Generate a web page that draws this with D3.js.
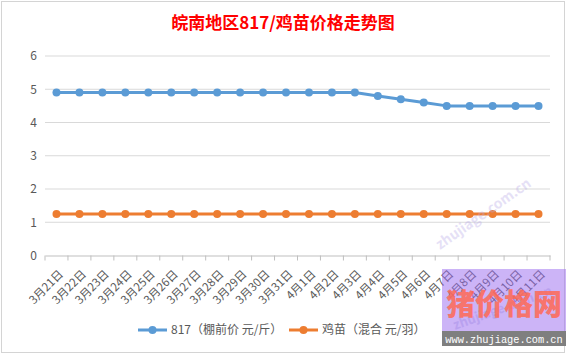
<!DOCTYPE html>
<html>
<head>
<meta charset="utf-8">
<script src="https://cdn.jsdelivr.net/npm/d3@7"></script>
<style>
  html, body { margin: 0; padding: 0; background: #fff; }
  svg { display: block; }
  text { font-family: "Noto Sans CJK SC", "Noto Sans", sans-serif; }
</style>
</head>
<body>
<svg id="chart" width="567" height="355"></svg>
<script>
const title = "皖南地区817/鸡苗价格走势图";
const categories = ["3月21日","3月22日","3月23日","3月24日","3月25日","3月26日","3月27日","3月28日","3月29日","3月30日","3月31日","4月1日","4月2日","4月3日","4月4日","4月5日","4月6日","4月7日","4月8日","4月9日","4月10日","4月11日"];
const price817 = [4.9,4.9,4.9,4.9,4.9,4.9,4.9,4.9,4.9,4.9,4.9,4.9,4.9,4.9,4.8,4.7,4.6,4.5,4.5,4.5,4.5,4.5];
const priceChick = [1.25,1.25,1.25,1.25,1.25,1.25,1.25,1.25,1.25,1.25,1.25,1.25,1.25,1.25,1.25,1.25,1.25,1.25,1.25,1.25,1.25,1.25];
const seriesNames = ["817（棚前价 元/斤）", "鸡苗（混合 元/羽）"];
const yTicks = [0,1,2,3,4,5,6];

const colors = ["#5b9bd5", "#ed7d31"];
const svg = d3.select("#chart");

// frame
svg.append("rect").attr("x",1.5).attr("y",1.5).attr("width",563).attr("height",351)
  .attr("fill","none").attr("stroke","#d4d4d4").attr("stroke-width",1);

const x = d3.scaleBand().domain(categories).range([45, 550]).padding(0);
const y = d3.scaleLinear().domain([0, 6]).range([255.5, 56]);
const cx = d => x(d) + x.bandwidth() / 2;

// title
svg.append("text").attr("x", 283).attr("y", 29).attr("text-anchor","middle")
  .attr("fill","#ff0000").attr("font-size", 17).attr("font-weight","bold").text(title);

// gridlines
svg.append("g").selectAll("line").data(yTicks.filter(t => t > 0)).join("line")
  .attr("x1", 45).attr("x2", 550).attr("y1", d => y(d)).attr("y2", d => y(d))
  .attr("stroke","#d9d9d9").attr("stroke-width",1);

// y axis labels
const yAxis = d3.axisLeft(y).tickValues(yTicks).tickSize(0).tickPadding(8).tickFormat(d3.format("d"));
const gy = svg.append("g").attr("transform","translate(45,0)").call(yAxis);
gy.select(".domain").remove();
gy.selectAll("text").attr("fill","#595959").attr("font-size",12);

// x axis
const gx = svg.append("g").attr("transform", `translate(0,${y(0)})`)
  .call(d3.axisBottom(x).tickSize(0).tickFormat(""));
gx.select(".domain").attr("stroke","#bfbfbf");
gx.selectAll(".tick").remove();
const bounds = categories.map(c => x(c)).concat([x(categories[categories.length-1]) + x.bandwidth()]);
gx.selectAll("line.tk").data(bounds).join("line").attr("class","tk")
  .attr("x1", d => d).attr("x2", d => d).attr("y1", 0).attr("y2", 5)
  .attr("stroke","#bfbfbf");

svg.append("g").selectAll("text").data(categories).join("text")
  .attr("transform", d => `translate(${cx(d) + 4.5},${y(0) + 16.5}) rotate(-45)`)
  .attr("text-anchor","end").attr("dy","0.35em")
  .attr("fill","#595959").attr("font-size",11.5).text(d => d);

// series
const line = d3.line().x((d,i) => cx(categories[i])).y(d => y(d));
[price817, priceChick].forEach((s, k) => {
  svg.append("path").datum(s).attr("d", line).attr("fill","none")
    .attr("stroke", colors[k]).attr("stroke-width", 3).attr("stroke-linejoin","round");
  svg.append("g").selectAll("circle").data(s).join("circle")
    .attr("cx", (d,i) => cx(categories[i])).attr("cy", d => y(d)).attr("r", 4)
    .attr("fill", colors[k]);
});

// legend
const legend = [{x1:138, t:171}, {x1:289, t:322}];
legend.forEach((l, k) => {
  const g = svg.append("g");
  g.append("line").attr("x1", l.x1).attr("x2", l.x1 + 29).attr("y1", 330).attr("y2", 330)
    .attr("stroke", colors[k]).attr("stroke-width", 3);
  g.append("circle").attr("cx", l.x1 + 14.5).attr("cy", 330).attr("r", 4).attr("fill", colors[k]);
  g.append("text").attr("x", l.t).attr("y", 330).attr("dy","0.35em")
    .attr("fill","#595959").attr("font-size",12).text(seriesNames[k]);
});

// watermark
const wm = svg.append("g");
wm.append("text").attr("transform","translate(440,250) rotate(-35)")
  .attr("fill","#b7a8e6").attr("opacity",0.35).attr("font-size",14).attr("font-family","Liberation Serif")
  .attr("font-weight","bold").text("zhujiage.com.cn");
wm.append("rect").attr("x",442).attr("y",269).attr("width",124).attr("height",62)
  .attr("fill","#9a6af0").attr("opacity",0.5);
wm.append("text").attr("transform","translate(455,330) rotate(-20)")
  .attr("fill","#a890e8").attr("opacity",0.5).attr("font-size",13).attr("font-family","Liberation Serif")
  .attr("font-weight","bold").text("zhujiage.com.cn");
wm.append("text").attr("x",504).attr("y",315).attr("text-anchor","middle")
  .attr("fill","#ff6a55").attr("opacity",0.85).attr("font-size",29).attr("font-weight",900)
  .text("猪价格网");
wm.append("rect").attr("x",442).attr("y",331).attr("width",124).attr("height",15).attr("fill","#7f7f7f");
wm.append("text").attr("x",504).attr("y",342.5).attr("text-anchor","middle")
  .attr("fill","#ffffff").attr("font-size",10.3).attr("font-family","Liberation Mono")
  .style("font-family","Liberation Mono").text("www.zhujiage.com.cn");
</script>
</body>
</html>
